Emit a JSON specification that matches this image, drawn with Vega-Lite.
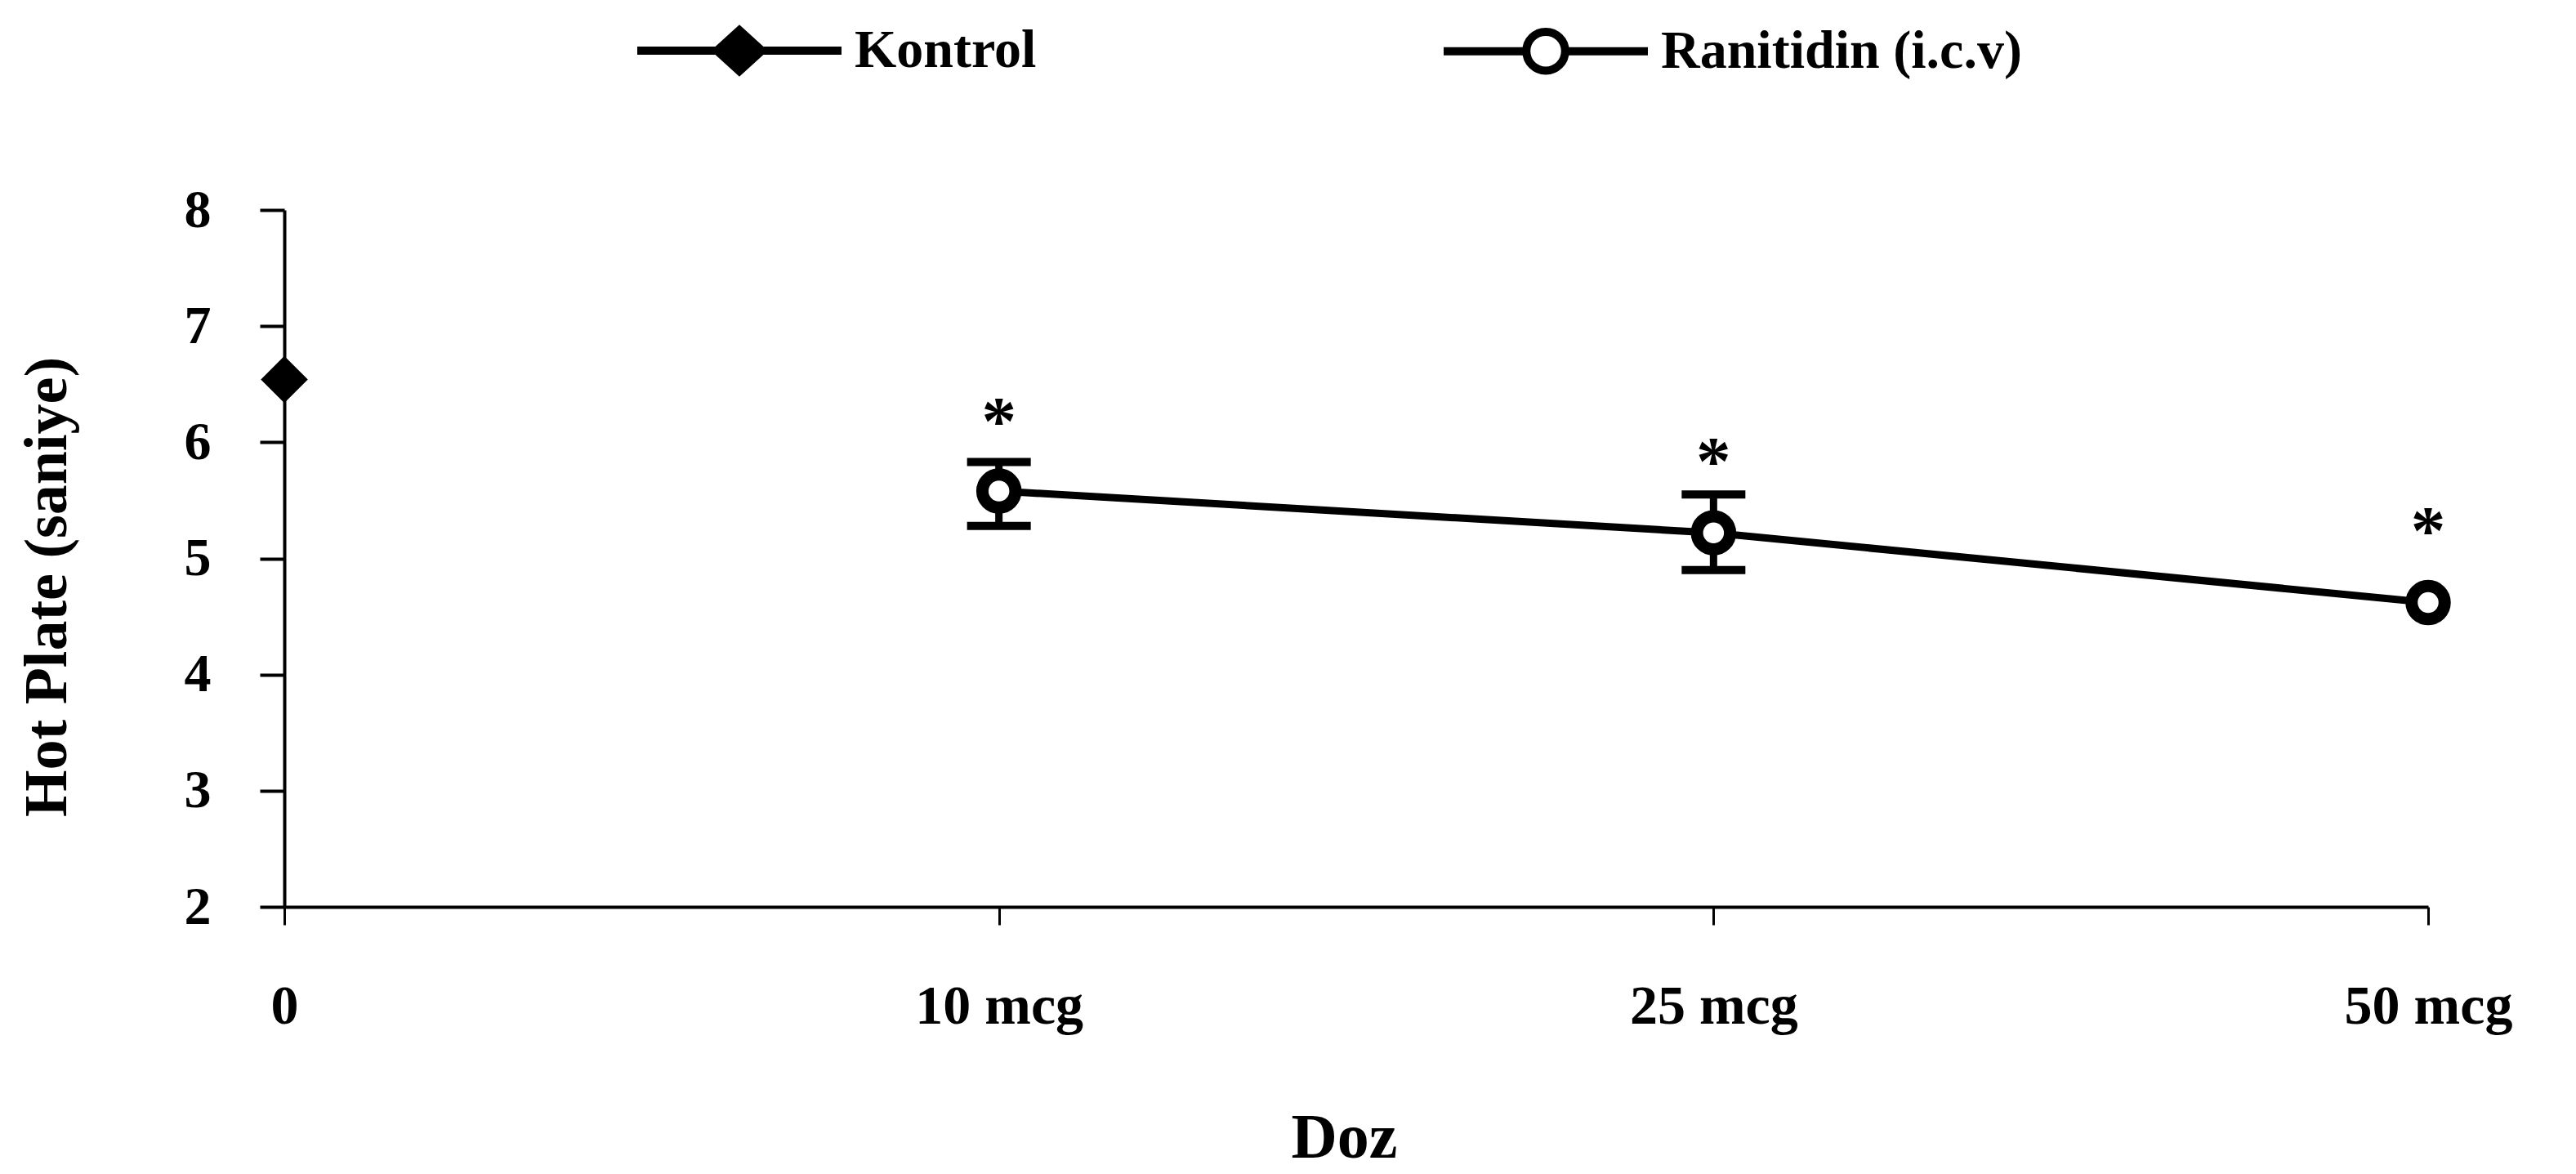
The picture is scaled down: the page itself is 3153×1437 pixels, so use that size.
{
  "$schema": "https://vega.github.io/schema/vega-lite/v6.json",
  "width": 2624,
  "height": 853,
  "autosize": {"type": "none"},
  "padding": {"left": 348, "top": 257, "right": 181, "bottom": 327},
  "background": "white",
  "config": {
    "view": {"stroke": null},
    "font": "Liberation Serif",
    "axis": {
      "grid": false,
      "domainColor": "black",
      "tickColor": "black",
      "labelColor": "black",
      "titleColor": "black",
      "labelFont": "Liberation Serif",
      "titleFont": "Liberation Serif",
      "labelFontWeight": "bold",
      "titleFontWeight": "bold",
      "labelLimit": 0
    },
    "axisX": {
      "labelAngle": 0,
      "labelFontSize": 68,
      "labelPadding": 66,
      "tickSize": 22,
      "tickWidth": 3,
      "domainWidth": 4,
      "titleFontSize": 78,
      "titleBaseline": "alphabetic",
      "titleAlign": "center",
      "titleX": 1297,
      "titleY": 306
    },
    "axisY": {
      "labelFontSize": 66,
      "labelPadding": 60,
      "tickSize": 30,
      "tickWidth": 4,
      "domainWidth": 4,
      "tickCount": 6,
      "titleFontSize": 74,
      "titleAngle": -90,
      "titleBaseline": "alphabetic",
      "titleAlign": "center",
      "titleX": -268,
      "titleY": 461
    },
    "legend": {
      "orient": "none",
      "direction": "horizontal",
      "legendX": 427,
      "legendY": -325,
      "padding": 0,
      "symbolSize": 62500,
      "symbolStrokeWidth": 10,
      "symbolStrokeColor": "black",
      "symbolOpacity": 1,
      "labelFont": "Liberation Serif",
      "labelFontSize": 66,
      "labelFontWeight": "bold",
      "labelColor": "black",
      "labelOffset": 11,
      "labelLimit": 0,
      "columnPadding": 478
    }
  },
  "data": {
    "values": [
      {"dose": "0", "series": "Kontrol", "mean": 6.54, "lo": null, "hi": null, "star": null},
      {"dose": "10 mcg", "series": "Ranitidin (i.c.v)", "mean": 5.58, "lo": 5.28, "hi": 5.83, "star": 6.26},
      {"dose": "25 mcg", "series": "Ranitidin (i.c.v)", "mean": 5.22, "lo": 4.9, "hi": 5.55, "star": 5.92},
      {"dose": "50 mcg", "series": "Ranitidin (i.c.v)", "mean": 4.62, "lo": null, "hi": null, "star": 5.32}
    ]
  },
  "encoding": {
    "x": {
      "field": "dose",
      "type": "ordinal",
      "title": "Doz",
      "scale": {"type": "point", "domain": ["0", "10 mcg", "25 mcg", "50 mcg"], "padding": 0}
    }
  },
  "layer": [
    {
      "transform": [{"filter": "datum.series === 'Ranitidin (i.c.v)'"}],
      "mark": {"type": "line", "color": "black", "strokeWidth": 9},
      "encoding": {
        "y": {"field": "mean", "type": "quantitative", "title": "Hot Plate (saniye)", "scale": {"domain": [2, 8], "nice": false, "zero": false}}
      }
    },
    {
      "transform": [{"filter": "datum.lo != null"}],
      "mark": {"type": "rule", "color": "black", "strokeWidth": 9},
      "encoding": {
        "y": {"field": "lo", "type": "quantitative", "title": "Hot Plate (saniye)"},
        "y2": {"field": "hi"}
      }
    },
    {
      "transform": [{"filter": "datum.lo != null"}],
      "mark": {"type": "tick", "color": "black", "orient": "horizontal", "size": 78, "thickness": 10, "opacity": 1},
      "encoding": {
        "y": {"field": "lo", "type": "quantitative", "title": "Hot Plate (saniye)"}
      }
    },
    {
      "transform": [{"filter": "datum.hi != null"}],
      "mark": {"type": "tick", "color": "black", "orient": "horizontal", "size": 78, "thickness": 10, "opacity": 1},
      "encoding": {
        "y": {"field": "hi", "type": "quantitative", "title": "Hot Plate (saniye)"}
      }
    },
    {
      "transform": [{"filter": "datum.series === 'Kontrol'"}],
      "mark": {"type": "point", "shape": "diamond", "filled": true, "fill": "black", "stroke": "black", "strokeWidth": 4, "size": 2700, "opacity": 1},
      "encoding": {
        "y": {"field": "mean", "type": "quantitative", "title": "Hot Plate (saniye)"}
      }
    },
    {
      "transform": [{"filter": "datum.series === 'Ranitidin (i.c.v)'"}],
      "mark": {"type": "point", "shape": "circle", "filled": true, "fill": "white", "stroke": "black", "strokeWidth": 15, "size": 1640, "opacity": 1},
      "encoding": {
        "y": {"field": "mean", "type": "quantitative", "title": "Hot Plate (saniye)"}
      }
    },
    {
      "transform": [{"filter": "false"}],
      "mark": {"type": "point", "filled": true, "strokeWidth": 10, "opacity": 1},
      "encoding": {
        "y": {"field": "mean", "type": "quantitative", "title": "Hot Plate (saniye)"},
        "shape": {
          "field": "series",
          "type": "nominal",
          "scale": {"domain": ["Kontrol", "Ranitidin (i.c.v)"], "range": ["M-1,0H1M0,-0.2L0.22,0L0,0.2L-0.22,0Z", "M-1,0H-0.19M0.19,0H1M-0.19,0A0.19,0.19 0 1,0 0.19,0A0.19,0.19 0 1,0 -0.19,0Z"]},
          "legend": {"title": null}
        },
        "fill": {
          "field": "series",
          "type": "nominal",
          "scale": {"domain": ["Kontrol", "Ranitidin (i.c.v)"], "range": ["black", "white"]},
          "legend": {"title": null}
        },
        "stroke": {
          "field": "series",
          "type": "nominal",
          "scale": {"domain": ["Kontrol", "Ranitidin (i.c.v)"], "range": ["black", "black"]},
          "legend": {"title": null}
        }
      }
    },
    {
      "transform": [{"filter": "datum.star != null"}],
      "mark": {"type": "text", "text": "*", "font": "Liberation Serif", "fontWeight": "bold", "fontSize": 85, "baseline": "alphabetic", "align": "center", "dy": 40, "color": "black"},
      "encoding": {
        "y": {"field": "star", "type": "quantitative", "title": "Hot Plate (saniye)"}
      }
    }
  ]
}
